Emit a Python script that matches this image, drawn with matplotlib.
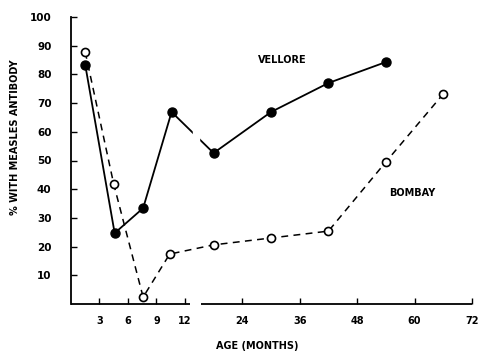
import numpy as np
import matplotlib.pyplot as plt

# months of age and % with measles antibody
vellore_age = [1.5, 4.6, 7.6, 10.6, 18, 30, 42, 54]
vellore_pct = [83.3, 24.7, 33.4, 66.9, 52.6, 66.9, 77, 84.3]

bombay_age = [1.5, 4.5, 7.6, 10.4, 18, 30, 42, 54, 66]
bombay_pct = [87.8, 41.8, 2.4, 17.4, 20.6, 23, 25.4, 49.5, 73.2]

xticks = [3, 6, 9, 12, 24, 36, 48, 60, 72]
yticks = [10, 20, 30, 40, 50, 60, 70, 80, 90, 100]


# first year is stretched, after that one tick per year
def fwd(m):
    m = np.asarray(m, dtype=float)
    return np.where(m <= 12, m * 9.5, 114 + (m - 12) * 4.79)


def inv(p):
    p = np.asarray(p, dtype=float)
    return np.where(p <= 114, p / 9.5, 12 + (p - 114) / 4.79)


fig = plt.figure(figsize=(4.81, 3.54), dpi=100)
ax = fig.add_axes([71 / 481, 50 / 354, 401 / 481, 287 / 354])
ax.set_xscale('function', functions=(fwd, inv))
ax.set_xlim(0, 72)
ax.set_ylim(0, 100)

ax.plot(vellore_age, vellore_pct, color='black', lw=1.3, marker='o',
        ms=6.5, mfc='black', zorder=2)
ax.plot(bombay_age, bombay_pct, color='black', lw=1.1, ls=(0, (4.5, 3.5)),
        marker='o', ms=5.8, mfc='white', mew=1.2, zorder=3)

# break in the vellore line and in the age axis
ax.axvspan(13.6, 14.9, ymin=0.45, ymax=0.72, color='white', zorder=2.5)
ax.spines[['top', 'right', 'bottom']].set_visible(False)
ax.spines['left'].set_linewidth(1.3)
for x0, x1 in [(0, 13.1), (15.4, 72)]:
    ax.hlines(0, x0, x1, color='black', lw=1.3, clip_on=False)

ax.set_xticks(xticks)
ax.set_xticklabels([str(t) for t in xticks])
ax.set_yticks(yticks)
ax.set_yticklabels([str(t) for t in yticks])
ax.minorticks_off()
ax.tick_params(axis='x', direction='in', length=4, width=1, pad=9,
               labelsize=7)
ax.tick_params(axis='y', direction='in', length=4, width=1, pad=14,
               labelsize=7.5)
for lab in ax.get_xticklabels() + ax.get_yticklabels():
    lab.set_fontweight('bold')

ax.text(32.3, 85, 'VELLORE', ha='center', va='center', fontsize=7,
        fontweight='bold')
ax.text(59.6, 38.7, 'BOMBAY', ha='center', va='center', fontsize=7,
        fontweight='bold')

ax.set_ylabel('% WITH MEASLES ANTIBODY', fontsize=7, fontweight='bold')
ax.yaxis.set_label_coords(-0.127, 0.58)
ax.set_xlabel('AGE (MONTHS)', fontsize=7, fontweight='bold')
ax.xaxis.set_label_coords(0.464, -0.128)

fig.savefig('out.png', dpi=100)
